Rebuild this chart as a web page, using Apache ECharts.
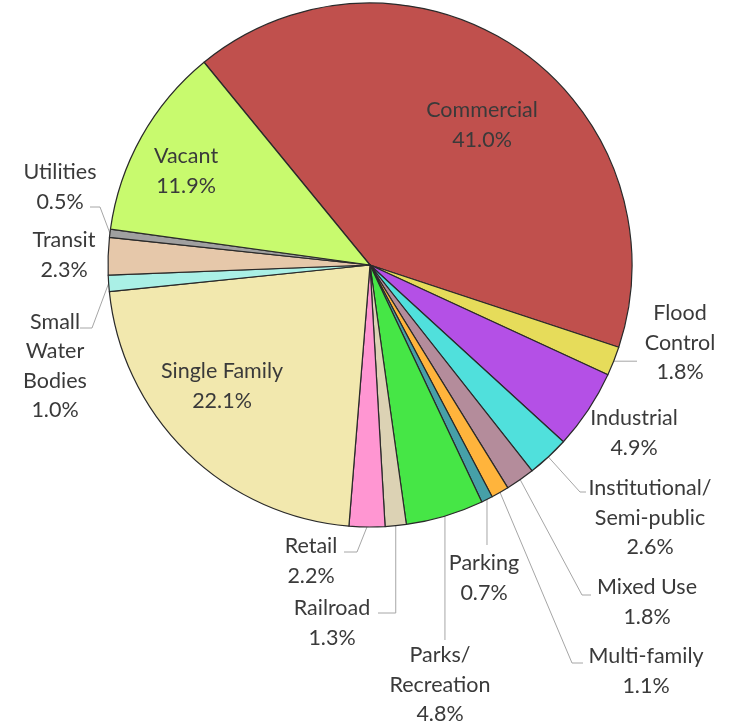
<!DOCTYPE html>
<html>
<head>
<meta charset="utf-8">
<script src="https://cdn.jsdelivr.net/npm/echarts@6/dist/echarts.min.js"></script>
<style>html,body{margin:0;padding:0;background:#fff;}#c{width:742px;height:728px;}</style>
</head>
<body>
<div id="c"></div>
<script>
// ---- data ----
const categories = ['Commercial','Flood Control','Industrial','Institutional/ Semi-public','Mixed Use','Multi-family','Parking','Parks/ Recreation','Railroad','Retail','Single Family','Small Water Bodies','Transit','Utilities','Vacant'];
const labelTexts = ['Commercial','Flood\nControl','Industrial','Institutional/\nSemi-public','Mixed Use','Multi-family','Parking','Parks/\nRecreation','Railroad','Retail','Single Family','Small\nWater\nBodies','Transit','Utilities','Vacant'];
const values = [41.0,1.8,4.9,2.6,1.8,1.1,0.7,4.8,1.3,2.2,22.1,1.0,2.3,0.5,11.9];
const colors = ['#C0504D','#E6DC5A','#B450E6','#50E0DC','#B48C9B','#FFB43C','#46A0A8','#46E646','#DCD2B4','#FF96D2','#F2E8AE','#AAF0E6','#E6C8AA','#A0A0A0','#C8FA6E'];

// ---- layout (label block centres and leader-line elbows) ----
const CX = 370, CY = 265, R = 262, START = 129.3;
const labelPos = [[482,125],[680,343],[634,433],[650,518],[647,602],[646,671],[484,578],[440,685],[332,623],[311,561],[222,386],[55,366],[64,255],[60,187],[186,171]];
// elbow points after the anchor on the pie edge; null = no line; 'v' = vertical drop to y
const elbows = [null,[[637,null]],null,[[580,492],[586,492]],[[582,595],[591,595]],[[572,663],[583,663]],[['v',545]],[['v',640]],[['v',613],[378,613]],[[357,552],[344,552]],null,[[92,328],[80,328]],null,[[100,207],[90,207]],null];

const total = values.reduce((a,b)=>a+b,0);
const cum = []; let s = 0; values.forEach(v=>{cum.push(s); s+=v;});
function anchor(i){
  const frac = (cum[i] + values[i]/2)/total;
  const a = (START - frac*360) * Math.PI/180;
  return [CX + R*Math.cos(a), CY - R*Math.sin(a)];
}

const data = categories.map((n,i)=>({
  name:n, value:values[i],
  itemStyle:{color:colors[i]},
  labelLine:{show: elbows[i]!==null}
}));

const chart = echarts.init(document.getElementById('c'));
chart.setOption({
  backgroundColor:'#fff',
  animation:false,
  series:[{
    type:'pie',
    center:[CX,CY],
    radius:R,
    startAngle:START,
    clockwise:true,
    avoidLabelOverlap:false,
    data:data,
    itemStyle:{borderColor:'#2a2a2a',borderWidth:1.2},
    label:{
      show:true,
      position:'outside',
      formatter:p=>labelTexts[p.dataIndex]+'\n'+p.value.toFixed(1)+'%',
      fontFamily:'Lato, "Open Sans", sans-serif',
      fontSize:21.5,
      lineHeight:29.5,
      color:'#3a3a3a',
      align:'center'
    },
    labelLine:{lineStyle:{color:'#A6A6A6',width:1}, length:10, length2:10},
    labelLayout:function(p){
      const i = p.dataIndex;
      const o = {x:labelPos[i][0], y:labelPos[i][1], align:'center', verticalAlign:'middle'};
      if (elbows[i]) {
        const a = anchor(i);
        const pts = [a];
        elbows[i].forEach(e=>{
          if (e[0]==='v') pts.push([a[0], e[1]]);
          else pts.push([e[0], e[1]===null ? a[1] : e[1]]);
        });
        o.labelLinePoints = pts;
      }
      return o;
    }
  }]
});
</script>
</body>
</html>
